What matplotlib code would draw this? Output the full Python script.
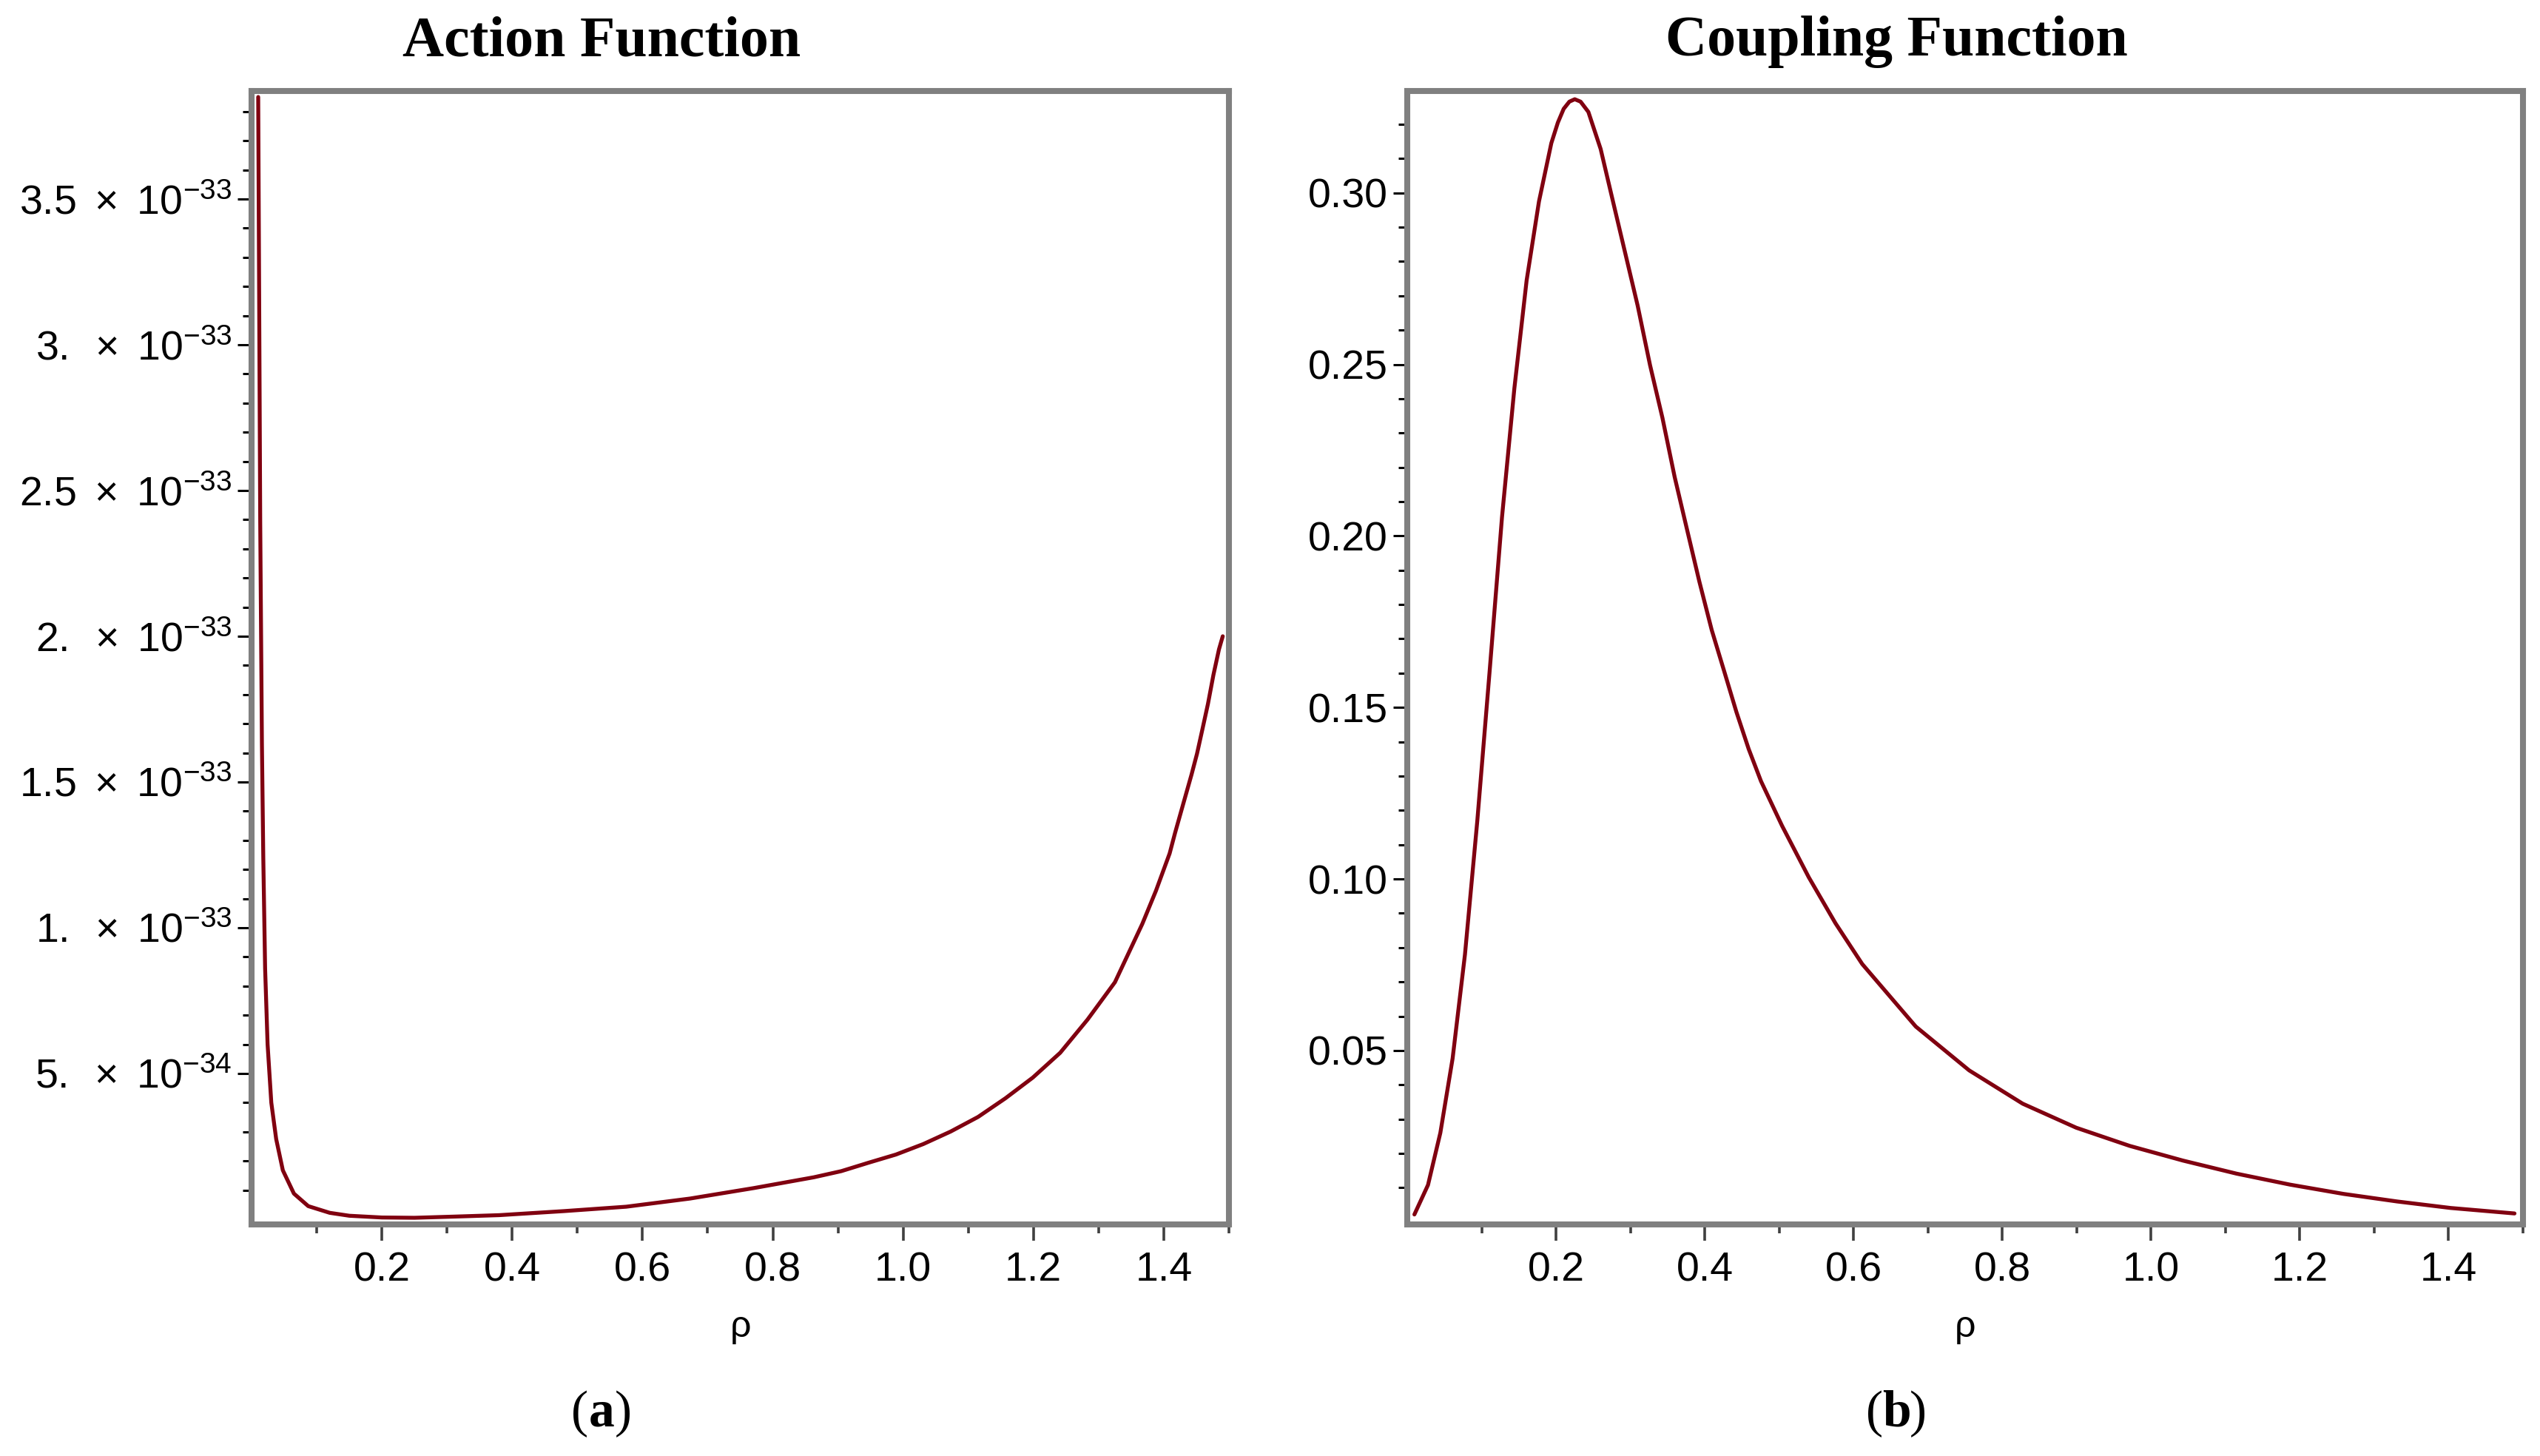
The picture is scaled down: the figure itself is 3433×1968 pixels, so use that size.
import matplotlib
matplotlib.use("Agg")
import matplotlib.pyplot as plt
import numpy as np

# ---------------- data ----------------
action_rho = [0.0102, 0.0114, 0.0133, 0.0159, 0.018, 0.0208, 0.0246, 0.0303, 0.0378,
              0.048, 0.065, 0.087, 0.12, 0.15, 0.2, 0.25, 0.31, 0.38, 0.48, 0.575,
              0.673, 0.771, 0.863, 0.905, 0.947, 0.989, 1.031, 1.073, 1.115, 1.157,
              1.199, 1.241, 1.283, 1.325, 1.346, 1.367, 1.388, 1.409, 1.4174, 1.430,
              1.4426, 1.451, 1.4594, 1.4678, 1.4762, 1.4847, 1.4905]
action_val_e33 = [3.85, 3.29, 2.39, 1.63, 1.24, 0.86, 0.60, 0.40, 0.275,
                  0.168, 0.088, 0.045, 0.022, 0.012, 0.006, 0.005, 0.009, 0.014, 0.028, 0.043,
                  0.071, 0.107, 0.144, 0.165, 0.194, 0.222, 0.258, 0.301, 0.351, 0.415,
                  0.486, 0.571, 0.685, 0.813, 0.913, 1.013, 1.127, 1.255, 1.326, 1.426,
                  1.5256, 1.597, 1.682, 1.768, 1.8675, 1.955, 2.00]

coupling_rho = [0.0096, 0.0279, 0.0445, 0.061, 0.0776, 0.0942, 0.1108, 0.1274, 0.144,
                0.1605, 0.1771, 0.1937, 0.2025, 0.2103, 0.218, 0.2252, 0.233, 0.2435,
                0.26, 0.2766, 0.2932, 0.3098, 0.3264, 0.343, 0.3595, 0.3761, 0.3927,
                0.4093, 0.4259, 0.4425, 0.459, 0.4756, 0.5039, 0.5398, 0.5757, 0.6117,
                0.6836, 0.7555, 0.8274, 0.8993, 0.9712, 1.0431, 1.115, 1.1869, 1.2587,
                1.3306, 1.4026, 1.4886]
coupling_val = [0.0022, 0.0108, 0.026, 0.0477, 0.078, 0.117, 0.1607, 0.2055, 0.243,
                0.2745, 0.2975, 0.3145, 0.3205, 0.3245, 0.3266, 0.3273, 0.3266, 0.3236,
                0.3128, 0.2975, 0.2823, 0.2671, 0.2498, 0.2345, 0.2172, 0.2019, 0.1867,
                0.1726, 0.1607, 0.1487, 0.1379, 0.1285, 0.1155, 0.1005, 0.0871, 0.0752,
                0.057, 0.0442, 0.0345, 0.0275, 0.0222, 0.0179, 0.0141, 0.0109, 0.0082,
                0.006, 0.0041, 0.0025]

x_major_ticks = [0.2, 0.4, 0.6, 0.8, 1.0, 1.2, 1.4]
x_minor_ticks = [0.1, 0.3, 0.5, 0.7, 0.9, 1.1, 1.3, 1.5]
x_tick_labels = ["0.2", "0.4", "0.6", "0.8", "1.0", "1.2", "1.4"]

action_major_ticks = [0.5e-33, 1.0e-33, 1.5e-33, 2.0e-33, 2.5e-33, 3.0e-33, 3.5e-33]
action_tick_labels = [r"$5.\ \times\ 10^{-34}$", r"$1.\ \times\ 10^{-33}$",
                      r"$1.5\ \times\ 10^{-33}$", r"$2.\ \times\ 10^{-33}$",
                      r"$2.5\ \times\ 10^{-33}$", r"$3.\ \times\ 10^{-33}$",
                      r"$3.5\ \times\ 10^{-33}$"]
coupling_major_ticks = [0.05, 0.10, 0.15, 0.20, 0.25, 0.30]
coupling_tick_labels = ["0.05", "0.10", "0.15", "0.20", "0.25", "0.30"]

titles = ["Action Function", "Coupling Function"]
panel_letters = ["a", "b"]
x_label = "ρ"

# ---------------- style ----------------
plt.rcParams['font.family'] = ['Liberation Sans', 'DejaVu Sans']
plt.rcParams['mathtext.fontset'] = 'custom'
plt.rcParams['mathtext.rm'] = 'Liberation Sans'
plt.rcParams['mathtext.it'] = 'Liberation Sans:italic'
plt.rcParams['mathtext.bf'] = 'Liberation Sans:bold'

W, H = 3433, 1968
fig = plt.figure(figsize=(W / 100, H / 100), dpi=100)
fig.patch.set_facecolor('white')

line_color = '#800010'
spine_color = '#808080'

bottom = 1 - 1655 / H
height = (1655 - 123) / H
ax1 = fig.add_axes([340 / W, bottom, (1661 - 340) / W, height])
ax2 = fig.add_axes([1902 / W, bottom, (3410 - 1902) / W, height])

ax1.plot(action_rho, np.array(action_val_e33) * 1e-33, color=line_color, lw=3.8,
         solid_joinstyle='round', solid_capstyle='round', zorder=3)
ax2.plot(coupling_rho, coupling_val, color=line_color, lw=3.8,
         solid_joinstyle='round', solid_capstyle='round', zorder=3)

ax1.set_ylim(-0.0178e-33, 3.8706e-33)
ax2.set_ylim(-0.0007, 0.3297)

for ax in (ax1, ax2):
    ax.set_xlim(0, 1.5)
    for s in ax.spines.values():
        s.set_color(spine_color)
        s.set_linewidth(5.8)
    ax.set_xticks(x_major_ticks)
    ax.set_xticks(x_minor_ticks, minor=True)
    ax.set_xticklabels(x_tick_labels)
    ax.tick_params(axis='x', which='major', direction='out', length=16, width=2.6,
                   color='#404040', labelsize=40, pad=10)
    ax.tick_params(axis='x', which='minor', direction='out', length=8.6, width=2.6,
                   color='#404040')
    ax.tick_params(axis='y', which='major', direction='out', length=14, width=2.2,
                   color='black', labelsize=40, pad=5)
    ax.tick_params(axis='y', which='minor', direction='out', length=9, width=2.2,
                   color='black')
    ax.set_xlabel(x_label, fontsize=36, labelpad=20)

ax1.set_yticks(action_major_ticks)
ax1.set_yticklabels(action_tick_labels)
ax1.set_yticks([v * 1e-34 for v in range(1, 39) if v % 5 != 0], minor=True)

ax2.set_yticks(coupling_major_ticks)
ax2.set_yticklabels(coupling_tick_labels)
ax2.set_yticks([v / 100 for v in range(1, 33) if v % 5 != 0], minor=True)

# titles (centered over each sub-figure)
title_x = [813 / W, 2563 / W]
for tx, t in zip(title_x, titles):
    fig.text(tx, 1 - 75 / H, t, ha='center', va='baseline', fontsize=56,
             fontweight='bold', family='Liberation Serif')

# panel captions "(a)" / "(b)" with bold letter
for tx, letter in zip(title_x, panel_letters):
    half = 18 / W
    y = 1 - 1928 / H
    fig.text(tx, y, letter, ha='center', va='baseline', fontsize=50,
             fontweight='bold', family='Liberation Serif')
    fig.text(tx - half, y, "(", ha='right', va='baseline', fontsize=50,
             family='Liberation Serif')
    fig.text(tx + half, y, ")", ha='left', va='baseline', fontsize=50,
             family='Liberation Serif')

fig.savefig("out.png", dpi=100, facecolor='white')
